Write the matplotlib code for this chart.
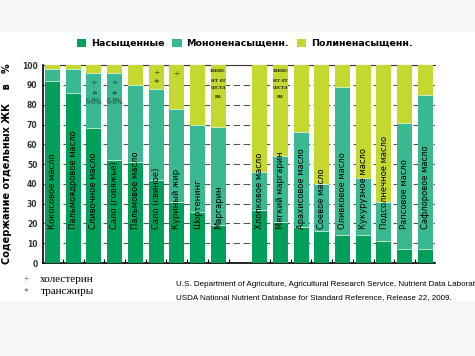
import numpy as np
import matplotlib.pyplot as plt
from matplotlib.patches import Rectangle

# Данные (в %)
fats = ['Кокосовое масло', 'Пальмоядровое масло', 'Сливочное масло', 'Сало (говяжье)',
        'Пальмовое масло', 'Сало (свиное)', 'Куриный жир', 'Шортенинг', 'Маргарин',
        'Хлопковое масло', 'Мягкий маргарин', 'Арахисовое масло', 'Соевое масло',
        'Оливковое масло', 'Кукурузное масло', 'Подсолнечное масло', 'Рапсовое масло',
        'Сафлоровое масло']
saturated = [92, 86, 68, 52, 51, 42, 31, 26, 19, 27, 21, 18, 16, 14, 14, 11, 7, 7]
mono = [6, 12, 28, 44, 39, 46, 47, 44, 50, 19, 33, 48, 24, 75, 29, 20, 64, 78]
poly = [2, 2, 4, 4, 10, 12, 22, 30, 31, 54, 46, 34, 60, 11, 57, 69, 29, 15]
pos = list(range(9)) + list(range(10, 19))

legend_labels = ['Насыщенные', 'Мононенасыщенн.', 'Полиненасыщенн.']
colors = ['#00a05a', '#39b892', '#c4d830']

fig = plt.figure(figsize=(4.75, 3.56), dpi=100)
fig.patch.set_facecolor('#f7f7f7')
fig.patches.append(Rectangle((0, 0.155), 1, 0.755, transform=fig.transFigure,
                             facecolor='white', edgecolor='none', zorder=-10))
ax = fig.add_axes([0.0905, 0.261, 0.825, 0.556])

sat = np.array(saturated)
mon = np.array(mono)
pol = np.array(poly)
w = 0.72
b1 = ax.bar(pos, sat, w, color=colors[0], edgecolor='none', zorder=3)
b2 = ax.bar(pos, mon, w, bottom=sat, color=colors[1], edgecolor='none', zorder=3)
b3 = ax.bar(pos, pol, w, bottom=sat + mon, color=colors[2], edgecolor='none', zorder=3)
# тонкие светлые границы между частями
ax.hlines(sat, np.array(pos) - w / 2, np.array(pos) + w / 2, color='#d8f0e0', lw=0.6, zorder=4)
ax.hlines(sat + mon, np.array(pos) - w / 2, np.array(pos) + w / 2, color='#e8f5d0', lw=0.6, zorder=4)

for p, name in zip(pos, fats):
    ax.text(p, 17, name, rotation=90, ha='center', va='bottom', fontsize=6, zorder=5)

# пометки
serif = 'Liberation Serif'
for p in (2, 3):
    ax.text(p, 90.5, '+', ha='center', va='center', fontsize=8, color='#173f33', family=serif, zorder=5)
    ax.text(p, 85, '*', ha='center', va='center', fontsize=8, color='#173f33', family=serif, zorder=5)
    ax.text(p, 81.5, '6-8%', ha='center', va='center', fontsize=5.5, color='#173f33', family=serif, zorder=5)
ax.text(5, 95.8, '+', ha='center', va='center', fontsize=8, color='#2e3a08', family=serif, zorder=5)
ax.text(5, 91, '*', ha='center', va='center', fontsize=8, color='#2e3a08', family=serif, zorder=5)
ax.text(6, 95, '+', ha='center', va='center', fontsize=8, color='#2e3a08', family=serif, zorder=5)
for p in (8, 11):
    for yy, s in zip([97.5, 92.4, 88.5, 84.3], ['завис', 'ит от', 'соста', 'ва']):
        ax.text(p, yy, s, ha='center', va='center', fontsize=4.5, color='#2e3a08',
                family=serif, fontweight='bold', zorder=5)

ax.set_xlim(-0.46, 18.46)
ax.set_ylim(0, 100)
ax.set_yticks(range(0, 101, 10))
ax.set_xticks([])
ax.set_xticks(np.array(pos[:-1]) + 0.5, minor=True)
ax.tick_params(axis='x', which='minor', direction='in', length=3, width=0.8)
ax.tick_params(axis='y', labelsize=5.5, length=0, pad=4, labelcolor='#333333')
for lbl in ax.get_yticklabels():
    lbl.set_fontweight('bold')
ax.yaxis.grid(True, color='#555555', linestyle=(0, (6, 3)), linewidth=0.8, zorder=1)
ax.spines['right'].set_visible(False)
ax.spines['top'].set_color('#333333')
ax.spines['left'].set_linewidth(1.2)
ax.spines['bottom'].set_linewidth(1.2)

ax.set_ylabel('Содержание отдельных ЖК    в   %', fontsize=7, fontweight='bold', labelpad=7)

fig.legend([b1, b2, b3], legend_labels, loc='center', bbox_to_anchor=(0.515, 0.878), ncol=3,
           frameon=False, handlelength=1.0, handleheight=1.0, columnspacing=0.8,
           handletextpad=0.5, prop={'weight': 'bold', 'size': 6.8})

fig.text(0.05, 0.215, '+', fontsize=7, color='#666666', family=serif, va='center')
fig.text(0.085, 0.215, 'холестерин', fontsize=8, family=serif, va='center')
fig.text(0.05, 0.18, '*', fontsize=7, color='#666666', family=serif, va='center')
fig.text(0.085, 0.18, 'трансжиры', fontsize=8, family=serif, va='center')
fig.text(0.37, 0.2, 'U.S. Department of Agriculture, Agricultural Research Service, Nutrient Data Laboratory.',
         fontsize=5.8, va='center', family='Liberation Sans')
fig.text(0.37, 0.165, 'USDA National Nutrient Database for Standard Reference, Release 22, 2009.',
         fontsize=5.8, va='center', family='Liberation Sans')

fig.savefig('out.png', dpi=100)
